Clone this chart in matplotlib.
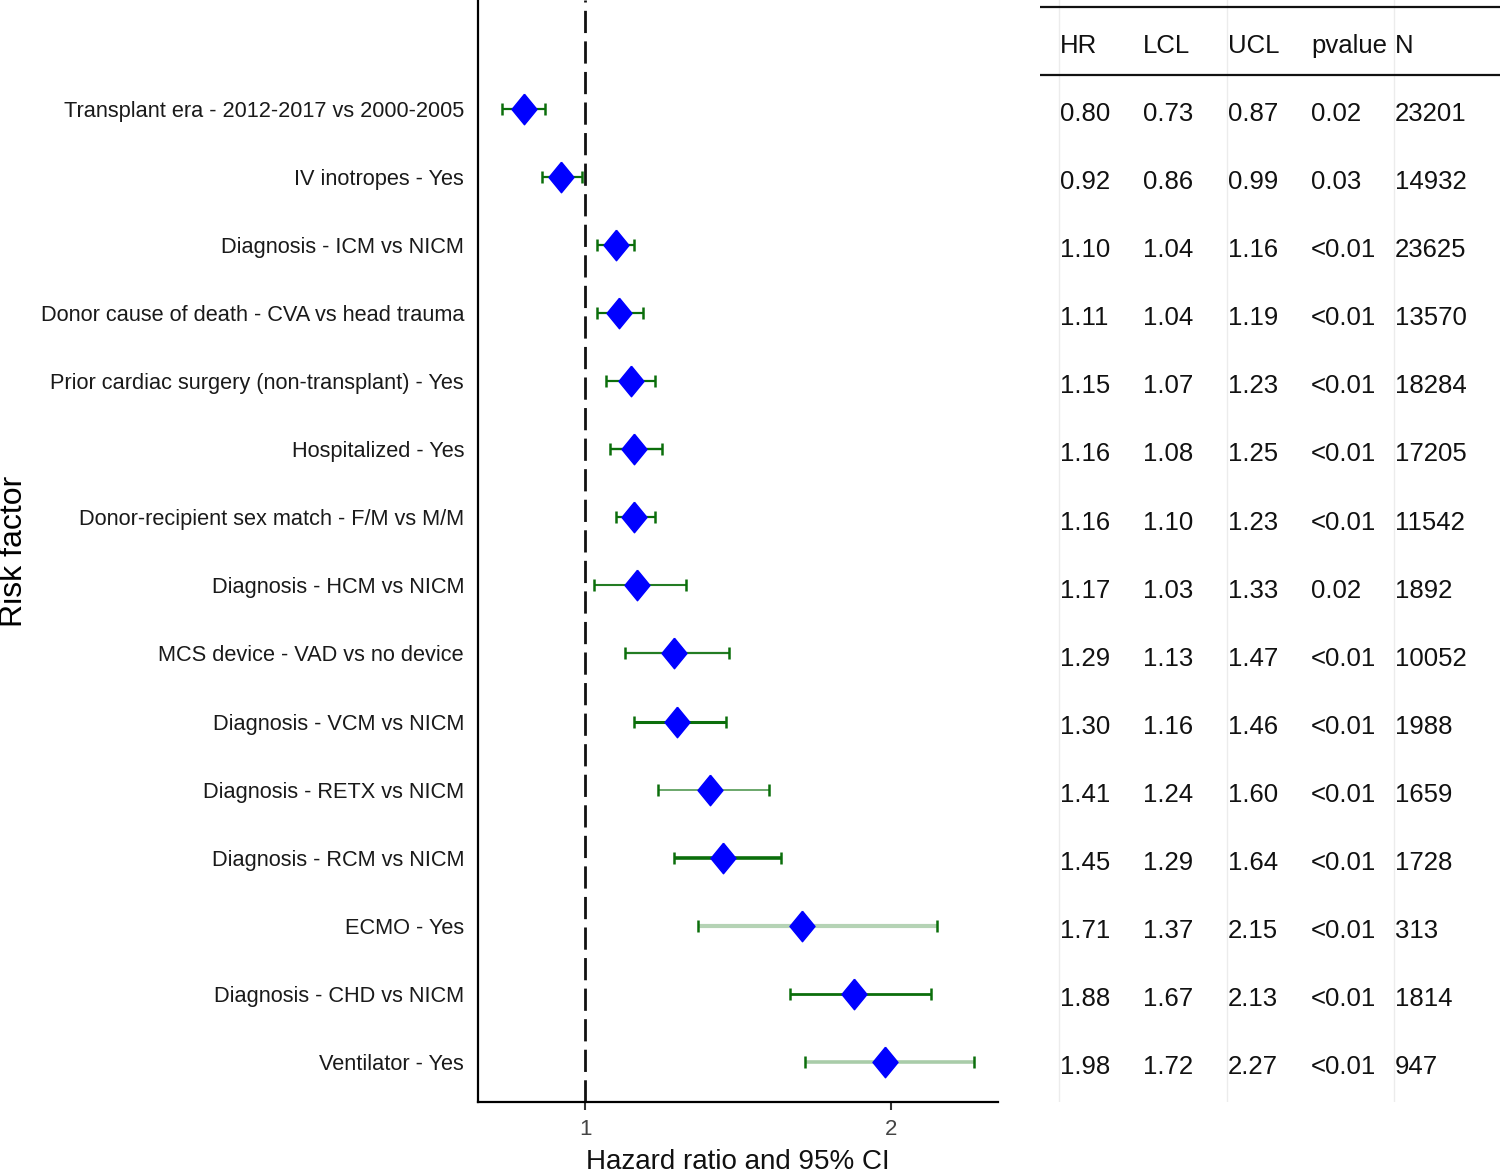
import matplotlib
matplotlib.use("Agg")
from matplotlib import pyplot as plt
from matplotlib import font_manager
import numpy as np

# -- Data ---------------------------------------------------------------------

labels = [
    "Transplant era - 2012-2017 vs 2000-2005",
    "IV inotropes - Yes",
    "Diagnosis - ICM vs NICM",
    "Donor cause of death - CVA vs head trauma",
    "Prior cardiac surgery (non-transplant) - Yes",
    "Hospitalized - Yes",
    "Donor-recipient sex match - F/M vs M/M",
    "Diagnosis - HCM vs NICM",
    "MCS device - VAD vs no device",
    "Diagnosis - VCM vs NICM",
    "Diagnosis - RETX vs NICM",
    "Diagnosis - RCM vs NICM",
    "ECMO - Yes",
    "Diagnosis - CHD vs NICM",
    "Ventilator - Yes",
]
hr = [0.80, 0.92, 1.10, 1.11, 1.15, 1.16, 1.16, 1.17, 1.29, 1.30, 1.41, 1.45, 1.71, 1.88, 1.98]
lcl = [0.73, 0.86, 1.04, 1.04, 1.07, 1.08, 1.10, 1.03, 1.13, 1.16, 1.24, 1.29, 1.37, 1.67, 1.72]
ucl = [0.87, 0.99, 1.16, 1.19, 1.23, 1.25, 1.23, 1.33, 1.47, 1.46, 1.60, 1.64, 2.15, 2.13, 2.27]
pvalue = ["0.02", "0.03", "<0.01", "<0.01", "<0.01", "<0.01", "<0.01", "0.02",
          "<0.01", "<0.01", "<0.01", "<0.01", "<0.01", "<0.01", "<0.01"]
n = [23201, 14932, 23625, 13570, 18284, 17205, 11542, 1892, 10052, 1988, 1659, 1728, 313, 1814, 947]

columns = ["HR", "LCL", "UCL", "pvalue", "N"]

# look of each CI line (the source renders them unevenly)
ci_alpha = [1, 1, 1, 1, 1, 1, 1, 0.9, 0.9, 1, 0.7, 1, 0.3, 1, 0.35]
ci_width = [1.6, 1.6, 1.6, 1.6, 1.6, 1.7, 1.6, 1.5, 1.6, 2.2, 1.2, 2.6, 3.0, 2.0, 2.6]

# -- Fonts --------------------------------------------------------------------

names = {f.name for f in font_manager.fontManager.ttflist}
FONT = "Liberation Sans"
for cand in ["Liberation Sans Narrow", "DejaVu Sans Condensed"]:
    if cand in names:
        FONT = cand
        break
plt.rcParams['font.family'] = [FONT, 'DejaVu Sans']
NARROW = FONT != "Liberation Sans"

LABEL_FS = 19 if NARROW else 15.7
TAB_FS = 21 if NARROW else 18.5

W, H = 1500, 1175
fig = plt.figure(figsize=(W / 100, H / 100), dpi=100)

BOTTOM = 1 - 1102 / H
ax = fig.add_axes([478 / W, BOTTOM, 520 / W, 1102 / H])
tab = fig.add_axes([1040 / W, BOTTOM, 460 / W, 1102 / H])

nrow = len(labels)
ypos = np.arange(nrow, 0, -1)
YLIM = (0.41, 16.6)

# -- Forest plot --------------------------------------------------------------

hr_a = np.array(hr)
lo = hr_a - np.array(lcl)
hi = np.array(ucl) - hr_a

ax.axvline(1, color="#111111", lw=2, ls=(0, (8, 3)), zorder=1)

for i in range(nrow):
    eb = ax.errorbar(hr[i], ypos[i], xerr=[[lo[i]], [hi[i]]], fmt="none",
                     ecolor="#0b6e0b", elinewidth=ci_width[i], capsize=4.5,
                     capthick=1.8, zorder=2)
    eb[2][0].set_alpha(ci_alpha[i])

diamond = [(0, 1), (0.82, 0), (0, -1), (-0.82, 0), (0, 1)]
ax.plot(hr, ypos, ls="none", marker=diamond, ms=22, color="#0000ff",
        mec="#0000ff", zorder=3)

ax.set_xlim(0.65, 2.35)
ax.set_ylim(*YLIM)
ax.set_xticks([1, 2])
ax.set_xticklabels(["1", "2"], fontsize=16, color="#444444")
ax.set_yticks(ypos)
ax.set_yticklabels(labels, fontsize=LABEL_FS, color="#1a1a1a")
ax.tick_params(axis="y", length=0, pad=10)
ax.tick_params(axis="x", length=6, width=1.5, color="#333333", pad=6)
ax.spines["top"].set_visible(False)
ax.spines["right"].set_visible(False)
ax.spines["left"].set_linewidth(1.6)
ax.spines["bottom"].set_linewidth(1.6)
ax.set_xlabel("Hazard ratio and 95% CI", fontsize=20, labelpad=7, color="#111111")

fig.text(14 / W, 1 - 551 / H, "Risk factor", rotation=90, ha="center",
         va="center", fontsize=23, family=["Liberation Sans", "DejaVu Sans"])

# -- Table --------------------------------------------------------------------

tab.set_xlim(0, 460)
tab.set_ylim(*YLIM)
tab.axis("off")

col_x = [20, 103, 188, 271, 355]
for x in [19, 187, 354]:
    tab.plot([x, x], [YLIM[0], YLIM[1]], color="#ececec", lw=1, zorder=0)

tab.plot([0, 460], [16.5, 16.5], color="#111111", lw=1.6)
tab.plot([0, 460], [15.5, 15.5], color="#111111", lw=1.6)

for x, c in zip(col_x, columns):
    tab.text(x, 15.96, c, ha="left", va="center_baseline", fontsize=TAB_FS,
             color="#111111")

for i in range(nrow):
    vals = ["%.2f" % hr[i], "%.2f" % lcl[i], "%.2f" % ucl[i], pvalue[i], str(n[i])]
    for x, v in zip(col_x, vals):
        tab.text(x, ypos[i] - 0.04, v, ha="left", va="center_baseline",
                 fontsize=TAB_FS, color="#111111")

fig.savefig("out.png", dpi=100)
